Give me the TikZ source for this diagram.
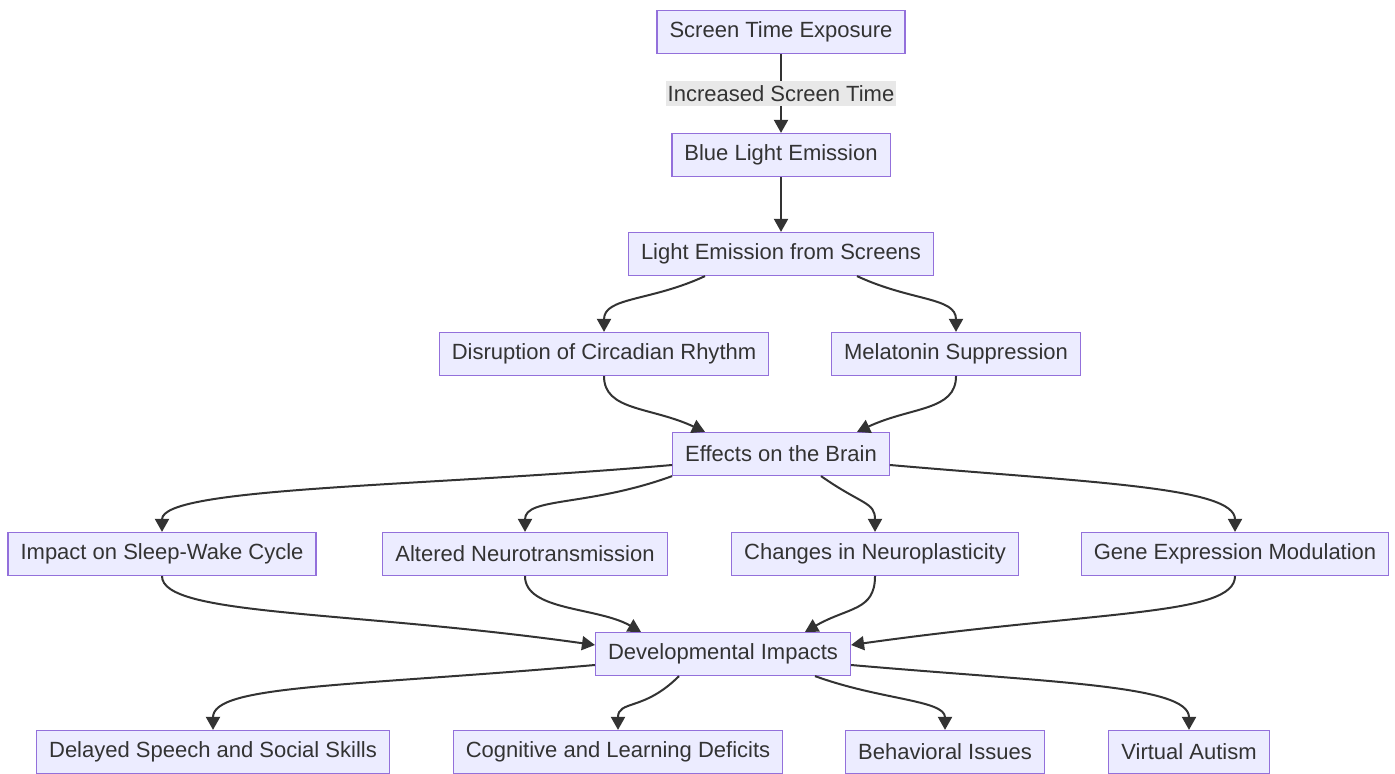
\documentclass[tikz,border=0pt]{standalone}
\usepackage{fontspec}
\setmainfont{Liberation Sans}
\usetikzlibrary{arrows.meta}
\definecolor{boxfill}{HTML}{ECECFF}
\definecolor{boxline}{HTML}{9370DB}
\definecolor{ink}{HTML}{333333}
\definecolor{lblfill}{HTML}{E8E8E8}
\tikzset{
  box/.style={draw=boxline, fill=boxfill, line width=0.6pt, text=ink,
    minimum height=21.5pt, inner xsep=6.25pt, inner ysep=0pt,
    font=\fontsize{11}{13}\selectfont},
  edge/.style={draw=ink, line width=1pt, -{Triangle[length=6.5pt,width=7pt]}},
  lbl/.style={fill=lblfill, text=ink, inner xsep=1pt, inner ysep=2pt,
    font=\fontsize{11}{13}\selectfont}
}

\begin{document}
\begin{tikzpicture}[x=0.5pt,y=0.5pt]
			%%%%% START %%%%%
			\def\ra{-32}
			\def\rb{-155}
			\def\rc{-254}
			\def\rd{-354}
			\def\re{-454}
			\def\rf{-554}
			\def\rg{-654}
			\def\rh{-752}

			\useasboundingbox (0,0) rectangle (1395,-774);

			\node[box] (expo) at (781,\ra) {Screen Time Exposure};
			\node[box] (blue) at (781,\rb) {Blue Light Emission};
			\node[box] (light) at (781,\rc) {Light Emission from Screens};

			\node[box] (circ) at (604,\rd) {Disruption of Circadian Rhythm};
			\node[box] (mela) at (956,\rd) {Melatonin Suppression};

			\node[box] (brain) at (781,\re) {Effects on the Brain};

			\node[box] (sleep) at (162,\rf) {Impact on Sleep-Wake Cycle};
			\node[box] (neuro) at (525,\rf) {Altered Neurotransmission};
			\node[box] (plast) at (875,\rf) {Changes in Neuroplasticity};
			\node[box] (gene) at (1235,\rf) {Gene Expression Modulation};

			\node[box] (dev) at (723,\rg) {Developmental Impacts};

			\node[box] (speech) at (213,\rh) {Delayed Speech and Social Skills};
			\node[box] (cogn) at (618,\rh) {Cognitive and Learning Deficits};
			\node[box] (behav) at (945,\rh) {Behavioral Issues};
			\node[box] (autism) at (1189,\rh) {Virtual Autism};

			% top chain
			\draw[edge] (expo) -- node[lbl] {Increased Screen Time} (blue);
			\draw[edge] (blue) -- (light);

			% split and join
			\draw[edge] ([xshift=-38pt]light.south) .. controls +(205:60) and +(90:35) .. (circ.north);
			\draw[edge] ([xshift=38pt]light.south) .. controls +(-25:60) and +(90:35) .. (mela.north);
			\draw[edge] (circ.south) .. controls +(270:35) and +(155:60) .. ([xshift=-38pt]brain.north);
			\draw[edge] (mela.south) .. controls +(270:35) and +(25:60) .. ([xshift=38pt]brain.north);

			% brain effects
			\draw[edge] ([yshift=-5.5pt]brain.west) .. controls +(185:250) and +(90:45) .. (sleep.north);
			\draw[edge] (brain.south west) .. controls +(200:90) and +(90:35) .. (neuro.north);
			\draw[edge] ([xshift=20pt]brain.south) .. controls +(325:50) and +(90:30) .. (plast.north);
			\draw[edge] ([yshift=-5.5pt]brain.east) .. controls +(-5:200) and +(90:45) .. (gene.north);

			% into development
			\draw[edge] (sleep.south) .. controls +(270:40) and +(172:250) .. ([yshift=4.5pt]dev.west);
			\draw[edge] (neuro.south) .. controls +(270:35) and +(150:50) .. ([xshift=-41pt]dev.north);
			\draw[edge] (plast.south) .. controls +(270:35) and +(30:50) .. ([xshift=41pt]dev.north);
			\draw[edge] (gene.south) .. controls +(270:40) and +(8:250) .. ([yshift=4.5pt]dev.east);

			% outcomes
			\draw[edge] ([yshift=-5.5pt]dev.west) .. controls +(185:250) and +(90:45) .. (speech.north);
			\draw[edge] ([xshift=-22pt]dev.south) .. controls +(225:50) and +(90:30) .. (cogn.north);
			\draw[edge] ([xshift=46pt]dev.south) .. controls +(340:70) and +(90:30) .. (behav.north);
			\draw[edge] ([yshift=-5.5pt]dev.east) .. controls +(-5:200) and +(90:45) .. (autism.north);
			%%%%% END %%%%%
\end{tikzpicture}
\end{document}
